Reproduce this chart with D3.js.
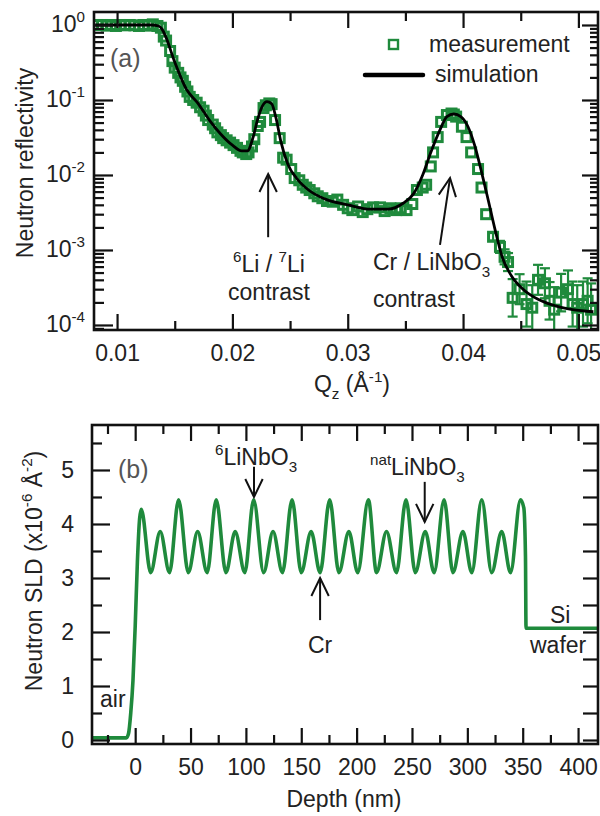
<!DOCTYPE html>
<html>
<head>
<meta charset="utf-8">
<script src="https://cdn.jsdelivr.net/npm/d3@7"></script>
<style>
  body { margin: 0; background: #fff; }
</style>
</head>
<body>
<script>
// ---- data: panel (a) reflectivity ----
var qMeas = [
  0.0083, 0.0087, 0.0091, 0.0095, 0.0099, 0.0103, 0.0107, 0.0111, 0.0115, 0.0119, 0.0123, 0.0127, 0.0131, 0.0135,
  0.0138, 0.01405, 0.01425, 0.0146, 0.0148, 0.0150,
  0.0153, 0.0155, 0.0157, 0.0159, 0.0161, 0.0163, 0.0166, 0.0169, 0.0172, 0.0175,
  0.0177, 0.0179, 0.0183, 0.0185, 0.0187, 0.0190, 0.0192, 0.0195, 0.0198, 0.0201,
  0.0204, 0.0207, 0.0209, 0.0212, 0.0214, 0.0217, 0.0219, 0.0222, 0.0224, 0.0227,
  0.0229, 0.0232, 0.0234, 0.0237, 0.0241, 0.0244, 0.0247, 0.0251, 0.0254, 0.0258,
  0.0261, 0.0264, 0.0267, 0.0271, 0.0274, 0.0278, 0.0282, 0.0287, 0.0291, 0.0296,
  0.0300, 0.0304, 0.0309, 0.0313, 0.0317, 0.0322, 0.0328, 0.0332, 0.0337, 0.0342,
  0.0346, 0.0351, 0.0356, 0.0360, 0.0365, 0.0368, 0.0372, 0.0374, 0.0378, 0.0381,
  0.0386, 0.0390, 0.0392, 0.0394, 0.0399, 0.0403, 0.0407, 0.0413, 0.0416, 0.0420,
  0.0426, 0.0432, 0.0436, 0.0439, 0.0443, 0.0449, 0.0455, 0.0460, 0.0465, 0.0471,
  0.0475, 0.0479, 0.0485, 0.0491, 0.0495, 0.0499, 0.0504, 0.0508, 0.0511
];
var rMeas = [
  1.0, 1.0, 0.98, 1.0, 0.97, 1.0, 0.99, 1.0, 0.99, 0.97, 1.0, 0.98, 1.02, 0.97,
  0.92, 0.70, 0.62, 0.45, 0.33, 0.27,
  0.23, 0.20, 0.18, 0.15, 0.13, 0.11, 0.10, 0.092, 0.080, 0.072,
  0.062, 0.054, 0.047, 0.042, 0.037, 0.034, 0.031, 0.029, 0.027, 0.025,
  0.023, 0.021, 0.020, 0.019, 0.020, 0.024, 0.030, 0.045, 0.051, 0.078,
  0.085, 0.090, 0.088, 0.054, 0.031, 0.017, 0.016, 0.012, 0.0091, 0.0085,
  0.0074, 0.0068, 0.0063, 0.0057, 0.0052, 0.0049, 0.0045, 0.0044, 0.0047, 0.0040,
  0.0036, 0.0034, 0.0038, 0.0032, 0.0035, 0.0037, 0.0037, 0.0033, 0.0036, 0.0034,
  0.0036, 0.0034, 0.0041, 0.0063, 0.0068, 0.0074, 0.013, 0.020, 0.032, 0.051,
  0.063, 0.066, 0.064, 0.060, 0.044, 0.032, 0.020, 0.012, 0.0068, 0.0030,
  0.0015, 0.0011, 0.00081, 0.00069, 0.00023, 0.00030, 0.00019, 0.00017, 0.00040, 0.00036,
  0.00021, 0.00016, 0.00027, 0.00030, 0.00019, 0.00017, 0.00019, 0.00021, 0.00016
];
// error bar half widths (in decades) for the last points of the measurement
var errMeas = [0.05, 0.08, 0.1, 0.12, 0.25, 0.2, 0.3, 0.3, 0.2, 0.2,
  0.25, 0.3, 0.25, 0.25, 0.3, 0.3, 0.3, 0.3, 0.35];

var qSim = [0.0081, 0.0130, 0.0136, 0.0139, 0.0142, 0.0150, 0.0160, 0.0170, 0.0180, 0.0190,
  0.0200, 0.0208, 0.0213, 0.0218, 0.0222, 0.0226, 0.0230, 0.0234, 0.0238, 0.0242,
  0.0248, 0.0256, 0.0266, 0.0280, 0.0300, 0.0320, 0.0335, 0.0348, 0.0357, 0.0365,
  0.0372, 0.0380, 0.0386, 0.0392, 0.0398, 0.0404, 0.0410, 0.0416, 0.0422, 0.0428,
  0.0434, 0.0442, 0.0452, 0.0465, 0.0480, 0.0495, 0.0513];
var rSim = [1.0, 1.0, 0.97, 0.88, 0.71, 0.32, 0.14, 0.091, 0.054, 0.035,
  0.025, 0.021, 0.021, 0.032, 0.056, 0.083, 0.095, 0.089, 0.056, 0.028,
  0.014, 0.0089, 0.0063, 0.0048, 0.0040, 0.0035, 0.0035, 0.0042, 0.0056, 0.010,
  0.020, 0.040, 0.060, 0.065, 0.060, 0.045, 0.025, 0.011, 0.0045, 0.0018,
  0.0008, 0.00045, 0.00030, 0.00022, 0.00018, 0.00016, 0.00015];

var qTicks = [0.01, 0.02, 0.03, 0.04, 0.05];
var qMinor = [0.015, 0.025, 0.035, 0.045];
var rExp = [0, -1, -2, -3, -4];

// ---- data: panel (b) SLD profile ----
var depth = [-39, -8, -6, -4, -2, 0, 2, 4, 5.5,
  14, 22.6, 31, 39.2, 48, 56.4, 65, 73.2, 82, 90.3, 99, 107, 116, 124.5, 133, 141.7,
  150, 158.9, 167, 175.7, 184, 193, 201, 210.6, 218, 227, 236, 244.6, 253, 262, 270, 279,
  287, 296, 304, 313, 322, 331, 339, 348, 351, 352.5, 353, 418];
var sld = [0.04, 0.04, 0.12, 0.5, 1.1, 2.1, 3.3, 4.1, 4.27,
  3.1, 3.86, 3.1, 4.45, 3.1, 3.86, 3.1, 4.45, 3.1, 3.86, 3.1, 4.45, 3.1, 3.86, 3.1, 4.45,
  3.1, 3.86, 3.1, 4.45, 3.1, 3.86, 3.1, 4.45, 3.1, 3.86, 3.1, 4.45, 3.1, 3.86, 3.1, 4.45,
  3.1, 3.86, 3.1, 4.45, 3.1, 3.86, 3.1, 4.45, 4.3, 3.4, 2.07, 2.07];

var depthTicks = [0, 50, 100, 150, 200, 250, 300, 350, 400];
var depthMinor = [-25, 25, 75, 125, 175, 225, 275, 325, 375];
var sldTicks = [0, 1, 2, 3, 4, 5];
var sldMinor = [0.5, 1.5, 2.5, 3.5, 4.5, 5.5];

var green = "#1f8a3c";
var ink = "#222";
var font = "Arial, 'Liberation Sans', Helvetica, sans-serif";
var fs = 23;

var svg = d3.select("body").append("svg").attr("width", 600).attr("height", 816);

// text with sub/superscripts: parts = [[text, "sup"|"sub"|undefined], ...]
function richText(x, y, parts, anchor, size, color) {
  var t = svg.append("text").attr("x", x).attr("y", y)
    .attr("text-anchor", anchor || "start")
    .attr("font-family", font).attr("font-size", size).attr("fill", color || ink);
  var shift = 0;
  parts.forEach(function (p) {
    var target = p[1] == "sup" ? -Math.round(size * 0.42) : p[1] == "sub" ? Math.round(size * 0.3) : 0;
    t.append("tspan").attr("dy", target - shift)
      .attr("font-size", p[1] ? size * 0.66 : size).text(p[0]);
    shift = target;
  });
  return t;
}

function arrow(x1, y1, x2, y2) {
  var a = Math.atan2(y2 - y1, x2 - x1), len = 20, spread = 0.45;
  var g = svg.append("g").attr("stroke", "#111").attr("stroke-width", 2).attr("fill", "none");
  g.append("line").attr("x1", x1).attr("y1", y1).attr("x2", x2).attr("y2", y2);
  g.append("path").attr("d",
    "M" + (x2 - len * Math.cos(a - spread)) + "," + (y2 - len * Math.sin(a - spread)) +
    "L" + x2 + "," + y2 +
    "L" + (x2 - len * Math.cos(a + spread)) + "," + (y2 - len * Math.sin(a + spread)));
}

function addAxis(axis, tx, ty) {
  var g = svg.append("g").attr("transform", "translate(" + tx + "," + ty + ")").call(axis);
  g.select(".domain").remove();
  g.selectAll(".tick line").attr("stroke", "#111").attr("stroke-width", 2.2);
  g.selectAll("text").attr("font-family", font).attr("font-size", fs).attr("fill", ink);
  return g;
}

function logTicks(domain) {
  var out = [];
  for (var n = -5; n <= 1; n++) {
    for (var k = 2; k <= 9; k++) {
      var v = k * Math.pow(10, n);
      if (v >= domain[0] && v <= domain[1]) out.push(v);
    }
  }
  return out;
}

// =================== panel (a) ===================
var xA = d3.scaleLinear().domain([0.0080, 0.0517]).range([94, 598]);
var yA = d3.scaleLog().domain([8.57e-5, 1.49]).range([330, 12]);
var rMajor = rExp.map(function (e) { return Math.pow(10, e); });
var rMinor = logTicks(yA.domain());

svg.append("clipPath").attr("id", "clipA").append("rect")
  .attr("x", 94).attr("y", 12).attr("width", 504).attr("height", 318);

var meas = qMeas.map(function (q, i) {
  var k = i - (qMeas.length - errMeas.length);
  return { q: q, r: rMeas[i], e: k >= 0 ? errMeas[k] : 0 };
});

var plotA = svg.append("g").attr("clip-path", "url(#clipA)");

//error bars
var eb = plotA.selectAll(".eb").data(meas.filter(function (d) { return d.e > 0; }))
  .enter().append("g").attr("class", "eb")
  .attr("stroke", green).attr("stroke-width", 2.2);
eb.append("line")
  .attr("x1", function (d) { return xA(d.q); }).attr("x2", function (d) { return xA(d.q); })
  .attr("y1", function (d) { return yA(d.r * Math.pow(10, d.e)); })
  .attr("y2", function (d) { return yA(d.r / Math.pow(10, d.e)); });
[1, -1].forEach(function (s) {
  eb.append("line")
    .attr("x1", function (d) { return xA(d.q) - 5; }).attr("x2", function (d) { return xA(d.q) + 5; })
    .attr("y1", function (d) { return yA(d.r * Math.pow(10, s * d.e)); })
    .attr("y2", function (d) { return yA(d.r * Math.pow(10, s * d.e)); });
});

//measurement squares
plotA.selectAll(".pt").data(meas).enter().append("rect").attr("class", "pt")
  .attr("x", function (d) { return xA(d.q) - 4.5; })
  .attr("y", function (d) { return yA(d.r) - 4.5; })
  .attr("width", 9).attr("height", 9)
  .attr("fill", "none").attr("stroke", green).attr("stroke-width", 3);

//simulation
var simLine = d3.line()
  .x(function (d, i) { return xA(qSim[i]); })
  .y(function (d) { return yA(d); })
  .curve(d3.curveMonotoneX);
plotA.append("path").datum(rSim).attr("d", simLine)
  .attr("fill", "none").attr("stroke", "#000").attr("stroke-width", 2.8);

// axes (ticks inward on all four sides)
addAxis(d3.axisBottom(xA).tickValues(qTicks).tickSize(-16).tickSizeOuter(0).tickPadding(15)
  .tickFormat(d3.format(".2f")), 0, 330);
addAxis(d3.axisBottom(xA).tickValues(qMinor).tickSize(-9).tickSizeOuter(0).tickFormat(""), 0, 330);
addAxis(d3.axisTop(xA).tickValues(qTicks).tickSize(-16).tickSizeOuter(0).tickFormat(""), 0, 12);
addAxis(d3.axisTop(xA).tickValues(qMinor).tickSize(-9).tickSizeOuter(0).tickFormat(""), 0, 12);
addAxis(d3.axisLeft(yA).tickValues(rMajor).tickSize(-19).tickSizeOuter(0).tickFormat(""), 94, 0);
addAxis(d3.axisLeft(yA).tickValues(rMinor).tickSize(-10).tickSizeOuter(0).tickFormat(""), 94, 0);
addAxis(d3.axisRight(yA).tickValues(rMajor).tickSize(-16).tickSizeOuter(0).tickFormat(""), 598, 0);
addAxis(d3.axisRight(yA).tickValues(rMinor).tickSize(-8).tickSizeOuter(0).tickFormat(""), 598, 0);

svg.append("rect").attr("x", 94).attr("y", 12).attr("width", 504).attr("height", 318)
  .attr("fill", "none").attr("stroke", "#111").attr("stroke-width", 2.6);

rExp.forEach(function (e) {
  richText(85, yA(Math.pow(10, e)) + 7, [["10"], [e == 0 ? "0" : "-" + (-e), "sup"]], "end", fs);
});

// titles
richText(0, 0, [["Neutron reflectivity"]], "middle", fs)
  .attr("transform", "translate(33,163) rotate(-90)");
richText(352, 392, [["Q"], ["z", "sub"], [" ("], ["Å"], ["-1", "sup"], [")"]], "middle", fs);

richText(110, 67, [["(a)"]], "start", 25, "#555");

// legend
svg.append("rect").attr("x", 389).attr("y", 40).attr("width", 9).attr("height", 9)
  .attr("fill", "none").attr("stroke", green).attr("stroke-width", 2.4);
richText(429, 52, [["measurement"]], "start", fs);
svg.append("line").attr("x1", 365).attr("x2", 423).attr("y1", 75).attr("y2", 75)
  .attr("stroke", "#000").attr("stroke-width", 4.5).attr("stroke-linecap", "round");
richText(435, 82, [["simulation"]], "start", fs);

// annotations
arrow(xA(0.0231), yA(0.00148), xA(0.0231), yA(0.0103));
richText(269, 272, [["6", "sup"], ["Li / "], ["7", "sup"], ["Li"]], "middle", fs);
richText(269, 300, [["contrast"]], "middle", fs);

arrow(xA(0.0380), yA(0.00117), xA(0.03887), yA(0.0091));
richText(373, 270, [["Cr / LiNbO"], ["3", "sub"]], "start", fs);
richText(373, 307, [["contrast"]], "start", fs);

// =================== panel (b) ===================
var xB = d3.scaleLinear().domain([-39, 418]).range([92, 598]);
var yB = d3.scaleLinear().domain([-0.074, 5.833]).range([744, 425]);

svg.append("clipPath").attr("id", "clipB").append("rect")
  .attr("x", 92).attr("y", 425).attr("width", 506).attr("height", 319);

var sldLine = d3.line()
  .x(function (d, i) { return xB(depth[i]); })
  .y(function (d) { return yB(d); })
  .curve(d3.curveMonotoneX);
svg.append("g").attr("clip-path", "url(#clipB)")
  .append("path").datum(sld).attr("d", sldLine)
  .attr("fill", "none").attr("stroke", green).attr("stroke-width", 3.6);

addAxis(d3.axisBottom(xB).tickValues(depthTicks).tickSize(-16).tickSizeOuter(0).tickPadding(15), 0, 744);
addAxis(d3.axisBottom(xB).tickValues(depthMinor).tickSize(-9).tickSizeOuter(0).tickFormat(""), 0, 744);
addAxis(d3.axisTop(xB).tickValues(depthTicks).tickSize(-16).tickSizeOuter(0).tickFormat(""), 0, 425);
addAxis(d3.axisTop(xB).tickValues(depthMinor).tickSize(-9).tickSizeOuter(0).tickFormat(""), 0, 425);
addAxis(d3.axisLeft(yB).tickValues(sldTicks).tickSize(-18).tickSizeOuter(0).tickPadding(18)
  .tickFormat(d3.format("d")), 92, 0);
addAxis(d3.axisLeft(yB).tickValues(sldMinor).tickSize(-10).tickSizeOuter(0).tickFormat(""), 92, 0);
addAxis(d3.axisRight(yB).tickValues(sldTicks.concat(sldMinor)).tickSize(-15).tickSizeOuter(0).tickFormat(""), 598, 0);

svg.append("rect").attr("x", 92).attr("y", 425).attr("width", 506).attr("height", 319)
  .attr("fill", "none").attr("stroke", "#111").attr("stroke-width", 2.6);

richText(0, 0, [["Neutron SLD (x10"], ["-6", "sup"], [" Å"], ["-2", "sup"], [")"]], "middle", fs)
  .attr("transform", "translate(42,571) rotate(-90)");
richText(344, 807, [["Depth (nm)"]], "middle", fs);

richText(118, 478, [["(b)"]], "start", 25, "#555");

arrow(xB(107.3), yB(5.06), xB(107.3), yB(4.50));
richText(215, 465, [["6", "sup"], ["LiNbO"], ["3", "sub"]], "start", fs);

arrow(xB(261.5), yB(4.78), xB(261.5), yB(4.04));
richText(370, 475, [["nat", "sup"], ["LiNbO"], ["3", "sub"]], "start", fs);

arrow(xB(167), yB(2.22), xB(167), yB(3.0));
richText(308, 653, [["Cr"]], "start", fs);

richText(550, 623, [["Si"]], "start", fs);
richText(530, 653, [["wafer"]], "start", fs);
richText(100, 707, [["air"]], "start", fs);
</script>
</body>
</html>
